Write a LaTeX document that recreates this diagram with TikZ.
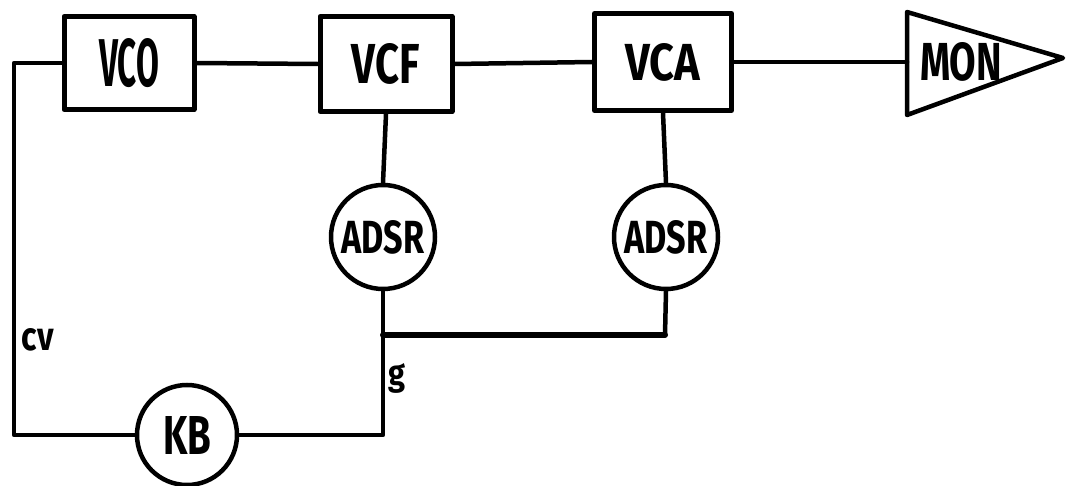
\documentclass[tikz,border=0pt]{standalone}
\usepackage{fontspec}
\usepackage{graphicx}
\setmainfont{Fira Sans}
\newcommand{\lbl}[3]{\resizebox{#1pt}{#2pt}{\bfseries #3}}
\begin{document}
\begin{tikzpicture}[x=1pt,y=-1pt,
  wire/.style={line width=4.5pt,line cap=round,line join=round},
  blockbox/.style={draw,line width=5pt,line join=round,rectangle,inner sep=0pt},
  envcircle/.style={draw,line width=4.5pt,circle,inner sep=0pt,minimum size=104pt},
  txt/.style={inner sep=0pt}]
\useasboundingbox (0,0) rectangle (1069,486);
% blocks
\node[blockbox,minimum width=130pt,minimum height=93pt] (vco) at (129,63) {\lbl{60}{48}{VCO}};
\node[blockbox,minimum width=132pt,minimum height=95pt] (vcf) at (386,64) {\lbl{68}{40}{VCF}};
\node[blockbox,minimum width=137pt,minimum height=97pt] (vca) at (663,62) {\lbl{75}{37}{VCA}};
% monitor
\coordinate (montop) at (907,12);
\coordinate (monbot) at (907,115);
\coordinate (montip) at (1063,58);
\coordinate (monin) at (907,62);
\draw[line width=4.5pt,line join=round] (montop) -- (montip) -- (monbot) -- cycle;
\node[txt] (mon) at (961,62) {\lbl{82}{38}{MON}};
% envelopes and keyboard
\node[envcircle] (adsr1) at (383,237) {\lbl{83}{33}{ADSR}};
\node[envcircle] (adsr2) at (666,237) {\lbl{83}{33}{ADSR}};
\node[envcircle,minimum size=100pt] (kb) at (187,435) {\lbl{48}{38}{KB}};
% corner coordinates
\coordinate (cvtop) at (14,63);
\coordinate (cvbot) at (14,435);
\coordinate (gbot) at (383,435);
\coordinate (gjoin) at (383,335);
\coordinate (ajoin) at (665,335);
% audio path
\draw[wire] (vco.east) -- (vcf.west);
\draw[wire] (vcf.east) -- (vca.west);
\draw[wire] (vca.east) -- (monin);
% control
\draw[wire] (vco.west) -- (cvtop) -- (cvbot) -- (kb.west);
\draw[wire] (kb.east) -- (gbot) -- (adsr1.south);
\draw[wire] (adsr1.north) -- (vcf.south);
\draw[wire] (adsr2.north) -- (vca.south);
\draw[wire] (adsr2.south) -- (ajoin);
\draw[line width=6pt,line cap=round] (ajoin) -- (gjoin);
% labels
\node[txt] (cv) at (38,340) {\lbl{32}{22}{cv}};
\node[txt,anchor=west] (g) at (388,378) {\lbl{17}{22}{g}};
\end{tikzpicture}
\end{document}
